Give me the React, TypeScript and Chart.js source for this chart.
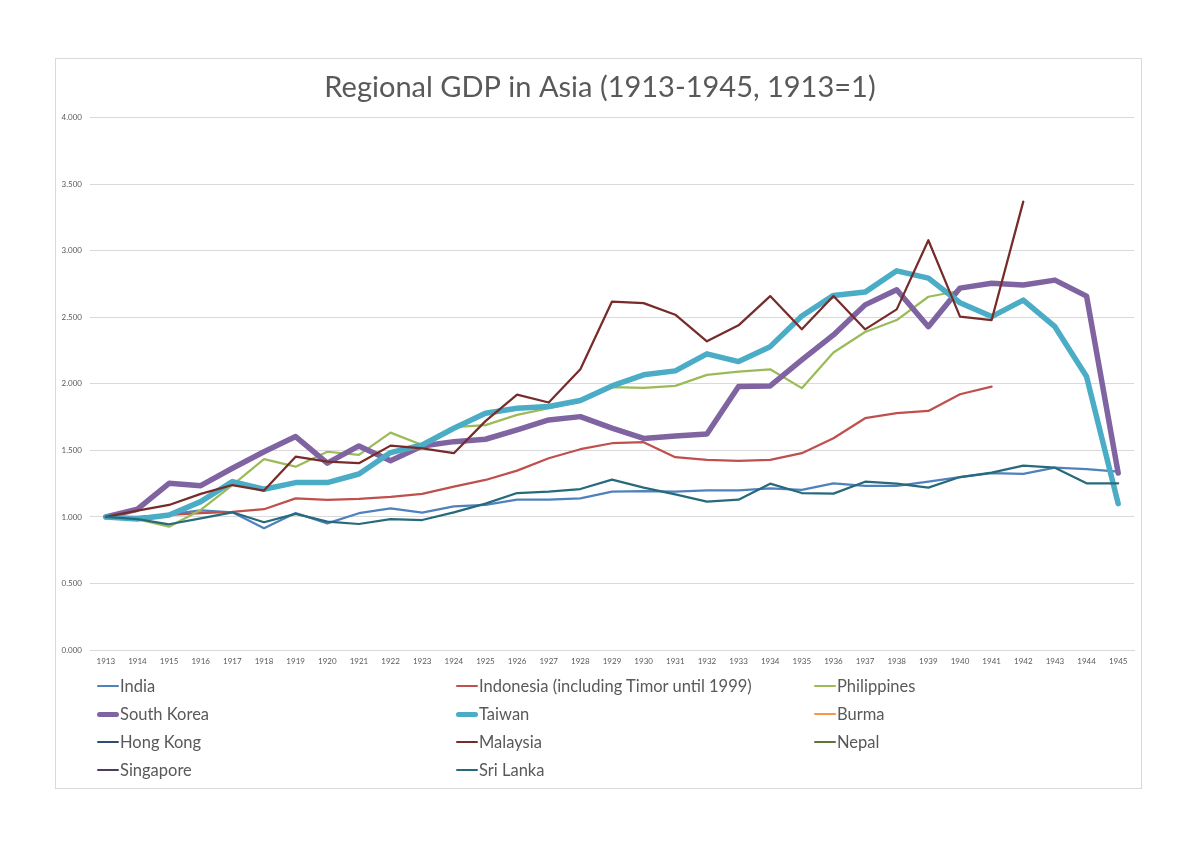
import React, { useEffect, useRef } from "react";
import { Chart, registerables } from "chart.js";

Chart.register(...registerables);

const years = [
  "1913", "1914", "1915", "1916", "1917", "1918", "1919", "1920", "1921", "1922", "1923",
  "1924", "1925", "1926", "1927", "1928", "1929", "1930", "1931", "1932", "1933", "1934",
  "1935", "1936", "1937", "1938", "1939", "1940", "1941", "1942", "1943", "1944", "1945",
];

const india = [1.0, 0.99, 1.02, 1.05, 1.035, 0.915, 1.03, 0.952, 1.028, 1.065, 1.032, 1.08, 1.09, 1.13, 1.13, 1.14, 1.19, 1.195, 1.19, 1.2, 1.2, 1.215, 1.203, 1.253, 1.233, 1.233, 1.265, 1.3, 1.33, 1.323, 1.37, 1.36, 1.34];
const indonesia = [1.0, 1.0, 1.015, 1.028, 1.038, 1.058, 1.14, 1.128, 1.135, 1.15, 1.173, 1.228, 1.278, 1.348, 1.441, 1.509, 1.554, 1.562, 1.449, 1.429, 1.421, 1.429, 1.479, 1.592, 1.742, 1.78, 1.797, 1.922, 1.98, null, null, null, null];
const philippines = [1.0, 0.983, 0.927, 1.053, 1.24, 1.434, 1.378, 1.49, 1.466, 1.634, 1.541, 1.675, 1.69, 1.767, 1.817, 1.867, 1.975, 1.97, 1.985, 2.068, 2.093, 2.11, 1.968, 2.236, 2.39, 2.48, 2.655, 2.7, null, null, null, null, null];
const southKorea = [1.0, 1.058, 1.253, 1.235, 1.366, 1.49, 1.604, 1.404, 1.534, 1.423, 1.534, 1.566, 1.584, 1.654, 1.729, 1.754, 1.667, 1.59, 1.609, 1.624, 1.98, 1.985, 2.18, 2.368, 2.594, 2.707, 2.43, 2.72, 2.757, 2.744, 2.78, 2.66, 1.33];
const taiwan = [1.0, 0.985, 1.015, 1.115, 1.266, 1.208, 1.258, 1.258, 1.323, 1.484, 1.541, 1.667, 1.78, 1.817, 1.83, 1.875, 1.985, 2.068, 2.098, 2.226, 2.168, 2.28, 2.51, 2.665, 2.69, 2.85, 2.795, 2.61, 2.506, 2.63, 2.43, 2.055, 1.1];
const burma: (number | null)[] = [];
const hongKong: (number | null)[] = [];
const malaysia = [1.0, 1.047, 1.09, 1.173, 1.24, 1.198, 1.453, 1.416, 1.404, 1.536, 1.516, 1.479, 1.72, 1.92, 1.86, 2.11, 2.619, 2.607, 2.52, 2.32, 2.44, 2.66, 2.41, 2.66, 2.41, 2.56, 3.08, 2.506, 2.48, 3.37, null, null, null];
const nepal: (number | null)[] = [];
const singapore: (number | null)[] = [];
const sriLanka = [1.0, 0.983, 0.945, 0.99, 1.035, 0.96, 1.023, 0.965, 0.947, 0.983, 0.977, 1.035, 1.1, 1.18, 1.19, 1.21, 1.28, 1.22, 1.17, 1.115, 1.13, 1.25, 1.18, 1.175, 1.265, 1.25, 1.22, 1.3, 1.333, 1.386, 1.37, 1.253, 1.253];

const seriesNames = [
  "India",
  "Indonesia (including Timor until 1999)",
  "Philippines",
  "South Korea",
  "Taiwan",
  "Burma",
  "Hong Kong",
  "Malaysia",
  "Nepal",
  "Singapore",
  "Sri Lanka",
];
const seriesData = [india, indonesia, philippines, southKorea, taiwan, burma, hongKong, malaysia, nepal, singapore, sriLanka];
const seriesColors = ["#4F81BD", "#C0504D", "#9BBB59", "#8064A2", "#4BACC6", "#F79646", "#2C4D75", "#772C2A", "#5F7530", "#4D3B62", "#276A7C"];
const seriesWidths = [2.25, 2.25, 2.25, 5.5, 5.5, 2.25, 2.25, 2.25, 2.25, 2.25, 2.25];

const titleText = "Regional GDP in Asia (1913-1945, 1913=1)";
const FONT = "Lato, 'Open Sans', 'Noto Sans', sans-serif";

export default function App() {
  const canvasRef = useRef<HTMLCanvasElement | null>(null);

  useEffect(() => {
    const canvas = canvasRef.current;
    if (!canvas) return;
    const n = seriesNames.length;
    const chart = new Chart(canvas, {
      type: "line",
      data: {
        labels: years,
        datasets: seriesNames.map((name, i) => ({
          label: name,
          data: seriesData[i],
          borderColor: seriesColors[i],
          backgroundColor: seriesColors[i],
          borderWidth: seriesWidths[i],
          pointRadius: 0,
          pointHoverRadius: 0,
          tension: 0,
          fill: false,
          spanGaps: false,
          borderCapStyle: "round" as const,
          borderJoinStyle: "round" as const,
          order: n - i,
          yAxisID: "y",
        })),
      },
      options: {
        animation: false,
        responsive: false,
        maintainAspectRatio: false,
        devicePixelRatio: 1,
        layout: { padding: { left: 0, right: 0, top: 0, bottom: 169 } },
        plugins: {
          legend: { display: false },
          tooltip: { enabled: false },
          title: {
            display: true,
            text: titleText,
            color: "#595959",
            font: { family: FONT, size: 29, weight: "normal", lineHeight: 1.2 },
            padding: { top: 70, bottom: 13 },
          },
        },
        scales: {
          x: {
            type: "category",
            offset: true,
            grid: { display: false, drawTicks: false },
            border: { display: true, color: "#D9D9D9", width: 1 },
            ticks: {
              color: "#595959",
              font: { family: FONT, size: 8 },
              padding: 7,
              maxRotation: 0,
              minRotation: 0,
              autoSkip: false,
            },
            afterFit: (scale: any) => {
              scale.height = 30;
            },
          },
          y: {
            type: "linear",
            position: "left",
            min: 0,
            max: 4,
            grid: { color: "#D9D9D9", lineWidth: 1, drawTicks: false },
            border: { display: false },
            ticks: {
              stepSize: 0.5,
              color: "#595959",
              font: { family: FONT, size: 8 },
              padding: 8,
              callback: (v: any) => Number(v).toFixed(3),
            },
            afterFit: (scale: any) => {
              scale.width = 90;
            },
          },
          ySpacer: {
            type: "linear",
            position: "right",
            display: true,
            min: 0,
            max: 4,
            grid: { display: false, drawTicks: false },
            border: { display: false },
            ticks: { display: false },
            afterFit: (scale: any) => {
              scale.width = 66;
            },
          },
        },
      },
    });
    return () => chart.destroy();
  }, []);

  const colLeft = [97, 456, 814];
  const rowTop = [686, 714, 742, 770];

  return (
    <div style={{ position: "fixed", left: 0, top: 0, width: 1200, height: 849, background: "#ffffff", overflow: "hidden" }}>
      <div
        style={{
          position: "absolute",
          left: 55,
          top: 58,
          width: 1087,
          height: 731,
          border: "1px solid #D9D9D9",
          boxSizing: "border-box",
        }}
      />
      <canvas ref={canvasRef} width={1200} height={849} style={{ position: "absolute", left: 0, top: 0, width: 1200, height: 849 }} />
      {seriesNames.map((name, i) => {
        const col = i % 3;
        const row = Math.floor(i / 3);
        const thick = seriesWidths[i] > 3;
        return (
          <div
            key={name}
            style={{
              position: "absolute",
              left: colLeft[col],
              top: rowTop[row] - 11,
              height: 22,
              display: "flex",
              alignItems: "center",
              whiteSpace: "nowrap",
              fontFamily: FONT,
              fontSize: 16.5,
              color: "#595959",
            }}
          >
            <span
              style={{
                display: "inline-block",
                width: 22,
                height: thick ? 5 : 2.5,
                borderRadius: 3,
                background: seriesColors[i],
                marginRight: 1,
              }}
            />
            <span>{name}</span>
          </div>
        );
      })}
    </div>
  );
}
